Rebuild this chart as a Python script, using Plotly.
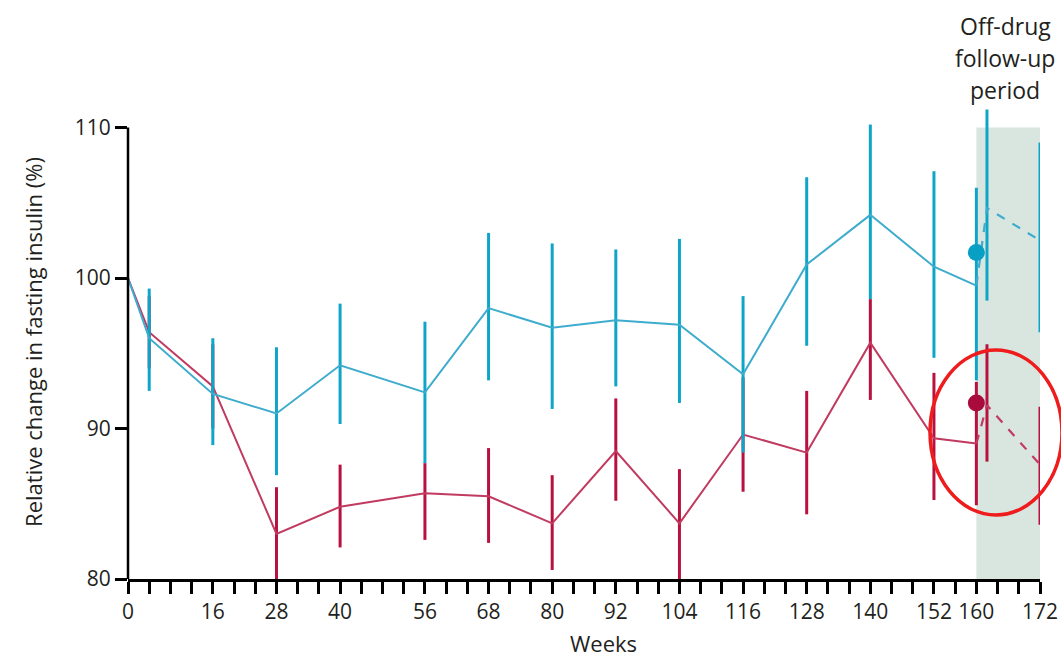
import plotly.graph_objects as go

# ---- data ----
weeks = [0, 4, 16, 28, 40, 56, 68, 80, 92, 104, 116, 128, 140, 152, 160]
blue_mean = [100, 96.0, 92.3, 91.0, 94.2, 92.4, 98.0, 96.7, 97.2, 96.9, 93.6, 100.9, 104.2, 100.75, 99.5]
blue_upper = [100, 99.3, 96.0, 95.4, 98.3, 97.1, 103.0, 102.3, 101.9, 102.6, 98.8, 106.7, 110.2, 107.1, 106.0]
blue_lower = [100, 92.5, 88.9, 86.9, 90.3, 87.7, 93.2, 91.3, 92.8, 91.7, 88.4, 95.5, 98.6, 94.7, 93.2]

red_mean = [100, 96.4, 92.8, 83.0, 84.8, 85.7, 85.5, 83.7, 88.5, 83.7, 89.6, 88.4, 95.7, 89.35, 89.0]
red_upper = [100, 98.8, 95.6, 86.1, 87.6, 87.7, 88.7, 86.9, 92.0, 87.3, 93.4, 92.5, 98.6, 93.7, 93.1]
red_lower = [100, 94.0, 90.0, 80.0, 82.1, 82.6, 82.4, 80.6, 85.2, 80.0, 85.8, 84.3, 91.9, 85.25, 84.9]

off_weeks = [162, 172]
blue_off_mean = [104.65, 102.5]
blue_off_upper = [111.2, 109.0]
blue_off_lower = [98.5, 96.4]
red_off_mean = [91.55, 87.6]
red_off_upper = [95.6, 91.45]
red_off_lower = [87.8, 83.6]

dot_week = [160]
blue_dot = [101.7]
red_dot = [91.7]

x_tick_labels = [0, 16, 28, 40, 56, 68, 80, 92, 104, 116, 128, 140, 152, 160, 172]
x_minor_step = 4
y_ticks = [80, 90, 100, 110]
off_period = [160, 172]
off_label_lines = ["Off-drug", "follow-up", "period"]

# ---- styles ----
BLUE_LINE = "#3eaccd"
BLUE_BAR = "#0fa5c8"
BLUE_DOT = "#079fc4"
RED_LINE = "#c13a60"
RED_BAR = "#b8103f"
RED_DOT = "#a90c3c"
TXT = "#231f20"
FONT = "Open Sans"


def err(mean, up, lo):
    return [u - m for u, m in zip(up, mean)], [m - l for m, l in zip(mean, lo)]


fig = go.Figure()

# red (drawn first, underneath)
rp, rm = err(red_mean, red_upper, red_lower)
fig.add_trace(go.Scatter(
    x=weeks, y=red_mean, mode="lines",
    line=dict(color=RED_LINE, width=2),
    error_y=dict(type="data", array=rp, arrayminus=rm, color=RED_BAR, thickness=3, width=0),
    cliponaxis=False, showlegend=False))
rop, rom = err(red_off_mean, red_off_upper, red_off_lower)
fig.add_trace(go.Scatter(
    x=[weeks[-1]] + off_weeks, y=[red_mean[-1]] + red_off_mean, mode="lines",
    line=dict(color=RED_LINE, width=2.2, dash="dash"),
    error_y=dict(type="data", array=[0] + rop, arrayminus=[0] + rom, color=RED_BAR, thickness=3, width=0),
    cliponaxis=False, showlegend=False))

# blue
bp, bm = err(blue_mean, blue_upper, blue_lower)
fig.add_trace(go.Scatter(
    x=weeks, y=blue_mean, mode="lines",
    line=dict(color=BLUE_LINE, width=2),
    error_y=dict(type="data", array=bp, arrayminus=bm, color=BLUE_BAR, thickness=3, width=0),
    cliponaxis=False, showlegend=False))
bop, bom = err(blue_off_mean, blue_off_upper, blue_off_lower)
fig.add_trace(go.Scatter(
    x=[weeks[-1]] + off_weeks, y=[blue_mean[-1]] + blue_off_mean, mode="lines",
    line=dict(color=BLUE_LINE, width=2.2, dash="dash"),
    error_y=dict(type="data", array=[0] + bop, arrayminus=[0] + bom, color=BLUE_BAR, thickness=3, width=0),
    cliponaxis=False, showlegend=False))

# dots
fig.add_trace(go.Scatter(x=dot_week, y=blue_dot, mode="markers",
                         marker=dict(color=BLUE_DOT, size=17), cliponaxis=False, showlegend=False))
fig.add_trace(go.Scatter(x=dot_week, y=red_dot, mode="markers",
                         marker=dict(color=RED_DOT, size=17), cliponaxis=False, showlegend=False))

# shaded off-drug period
fig.add_shape(type="rect", xref="x", yref="y",
              x0=off_period[0], x1=off_period[1], y0=y_ticks[0], y1=y_ticks[-1],
              fillcolor="#d9e6df", line=dict(width=0), layer="below")

# y axis line (only up to 110)
fig.add_shape(type="line", xref="paper", yref="y", x0=0, x1=0,
              y0=y_ticks[0], y1=y_ticks[-1], line=dict(color="black", width=2.5), layer="above")

# highlight ellipse
fig.add_shape(type="circle", xref="paper", yref="paper",
              x0=0.8794, x1=1.0241, y0=0.135, y1=0.4831,
              line=dict(color="#ee1c1c", width=3.5), layer="above")

# off-drug annotation (one line each for exact spacing)
for txt, yp in zip(off_label_lines, [1.1667, 1.0992, 1.0316]):
    fig.add_annotation(x=(off_period[0] + off_period[1]) / 2, xref="x", y=yp, yref="paper",
                       xshift=-3, text=txt, showarrow=False,
                       font=dict(family=FONT, size=23, color=TXT),
                       xanchor="center", yanchor="middle")

# x-axis title (placed slightly right of centre as in the reference)
fig.add_annotation(x=0.521, xref="paper", y=-0.135, yref="paper",
                   text="Weeks", showarrow=False,
                   font=dict(family=FONT, size=22, color=TXT),
                   xanchor="center", yanchor="middle")

xtickvals = list(range(0, 173, x_minor_step))
xticktext = [str(v) if v in x_tick_labels else "" for v in xtickvals]

fig.update_layout(
    width=1061, height=657,
    margin=dict(l=128, r=21, t=105, b=78),
    plot_bgcolor="white", paper_bgcolor="white",
    font=dict(family=FONT, color=TXT),
    xaxis=dict(range=[0, 172], tickmode="array", tickvals=xtickvals, ticktext=xticktext,
               automargin=False,
               showline=True, linecolor="black", linewidth=2.5,
               ticks="outside", ticklen=12, tickwidth=2.5, tickcolor="black",
               tickfont=dict(family=FONT, size=21, color=TXT),
               showgrid=False, zeroline=False),
    yaxis=dict(range=[80, 111.5], tickmode="array", tickvals=y_ticks,
               automargin=False,
               showline=False,
               ticks="outside", ticklen=12, tickwidth=2.5, tickcolor="black",
               tickfont=dict(family=FONT, size=21, color=TXT),
               showgrid=False, zeroline=False,
               title=dict(text="Relative change in fasting insulin (%)",
                          font=dict(family=FONT, size=22, color=TXT), standoff=26)),
)

fig.write_html("out.html", config={"displayModeBar": False},
               post_script="document.body.style.margin='0';document.body.style.overflow='hidden';")
